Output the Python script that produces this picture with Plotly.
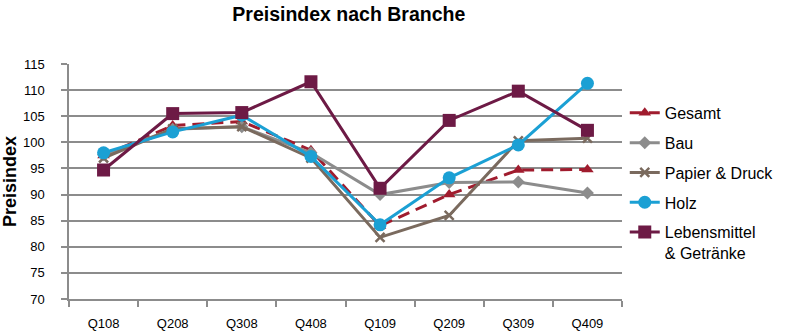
import plotly.graph_objects as go

quarters = ["Q108", "Q208", "Q308", "Q408", "Q109", "Q209", "Q309", "Q409"]

gesamt = [97.5, 103.2, 104.0, 98.5, 84.0, 90.0, 94.7, 94.8]
bau = [97.6, 102.5, 103.0, 98.0, 90.0, 92.3, 92.4, 90.3]
papier = [97.0, 102.6, 103.0, 97.0, 81.8, 86.0, 100.3, 100.8]
holz = [98.0, 102.0, 105.2, 97.3, 84.2, 93.2, 99.5, 111.3]
lebensmittel = [94.7, 105.5, 105.7, 111.6, 91.2, 104.2, 109.8, 102.3]

series = [
    ("Gesamt", gesamt, "#A01C2E", "12px,7px", "triangle-up", 11),
    ("Bau", bau, "#8C8C8C", "solid", "diamond", 10),
    ("Papier & Druck", papier, "#7A6A5E", "solid", "x-thin", 9),
    ("Holz", holz, "#1BA0D4", "solid", "circle", 13),
    ("Lebensmittel<br>& Getränke", lebensmittel, "#6D1A45", "solid", "square", 13),
]

fig = go.Figure()
for i, (name, vals, color, dash, sym, size) in enumerate(series):
    marker = dict(symbol=sym, size=size, color=color)
    if sym == "x-thin":
        marker["line"] = dict(color=color, width=2.5)
    fig.add_trace(go.Scatter(
        x=quarters, y=vals, name=name, mode="lines+markers",
        line=dict(color=color, width=3, dash=dash),
        marker=marker, legendgroup=f"g{i}",
    ))

fig.update_layout(
    width=800, height=334,
    margin=dict(l=69, r=178, t=64, b=35),
    paper_bgcolor="white", plot_bgcolor="white",
    font=dict(family="Liberation Sans, Arial, sans-serif", color="#000000"),
    title=dict(text="<b>Preisindex nach Branche</b>", x=0.436, xanchor="center",
               y=0.958, yanchor="middle", font=dict(size=19.5)),
    showlegend=True,
    legend=dict(x=1.005, xanchor="left", y=0.864, yanchor="top",
                font=dict(size=16), tracegroupgap=6, traceorder="grouped",
                valign="top", bgcolor="rgba(0,0,0,0)"),
    xaxis=dict(type="category", showgrid=False, showline=True, linecolor="#8C8C8C",
               linewidth=1.5, ticks="outside", tickson="boundaries", ticklen=6,
               tickcolor="#8C8C8C", tickwidth=1.5, tickfont=dict(size=13),
               ticklabelstandoff=12, range=[-0.5, 7.5], automargin=False),
    yaxis=dict(range=[70, 115], dtick=5, showgrid=True, gridcolor="#8C8C8C",
               gridwidth=1.5, showline=True, linecolor="#8C8C8C", linewidth=1.5,
               ticks="outside", ticklen=6, tickcolor="#8C8C8C", tickwidth=1.5,
               tickfont=dict(size=13), zeroline=False, ticklabelstandoff=14,
               automargin=False,
               title=dict(text="<b>Preisindex</b>", font=dict(size=18), standoff=2)),
)

fig.write_html("out.html")
